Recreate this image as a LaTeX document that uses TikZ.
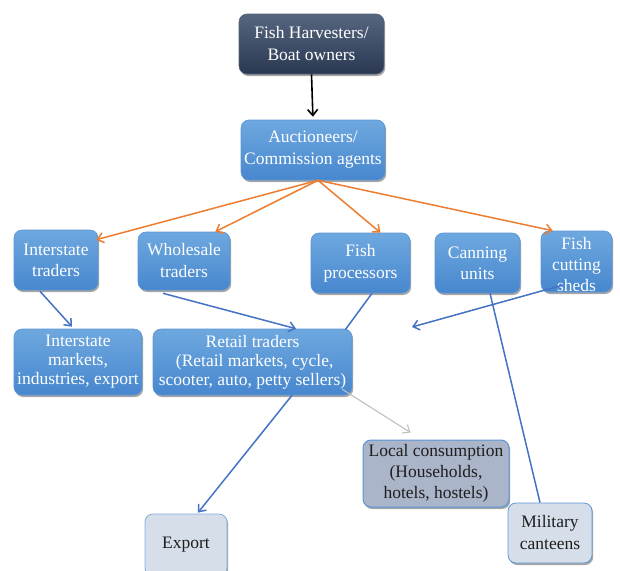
\documentclass[tikz,border=0pt]{standalone}
\usepackage{fontspec}
\setmainfont{Liberation Serif}
\usetikzlibrary{arrows.meta,shadows}
\definecolor{bluetop}{HTML}{6EA8DF}
\definecolor{bluebot}{HTML}{4787CE}
\definecolor{blueedge}{HTML}{5A95D6}
\definecolor{darktop}{HTML}{56667F}
\definecolor{darkbot}{HTML}{2A3852}
\definecolor{greyfill}{HTML}{AAB5CA}
\definecolor{lightfill}{HTML}{D6DEE9}
\definecolor{orangeln}{HTML}{ED7D31}
\definecolor{blueln}{HTML}{4472C4}
\definecolor{greyln}{HTML}{BFBFBF}
\definecolor{txtdark}{HTML}{1E1E1E}
\tikzset{
  box/.style={rounded corners=8pt, align=center, inner sep=1pt,
    font=\fontsize{17.5}{22}\selectfont,
    drop shadow={shadow xshift=1.2pt,shadow yshift=-2pt,opacity=0.35,fill=black}},
  bluebox/.style={box, top color=bluetop, bottom color=bluebot, draw=blueedge, line width=0.6pt, text=white},
  darkbox/.style={box, top color=darktop, bottom color=darkbot, draw=darkbot!80!white, line width=0.6pt, text=white},
  greybox/.style={box, fill=greyfill, draw=blueedge, line width=1pt, text=txtdark},
  lightbox/.style={box, fill=lightfill, draw=blueedge!70!lightfill, line width=0.8pt, text=txtdark},
  tip/.style={-{Straight Barb[length=6pt,width=10pt]}},
  orarr/.style={tip, draw=orangeln, line width=1.5pt},
  blarr/.style={tip, draw=blueln, line width=1.5pt},
  blline/.style={draw=blueln, line width=1.5pt},
  grarr/.style={tip, draw=greyln, line width=1.1pt},
  bkarr/.style={tip, draw=black, line width=1.6pt}
}
\begin{document}
\begin{tikzpicture}[x=1pt,y=-1pt]
\useasboundingbox (0,0) rectangle (620,570);
\node[darkbox, minimum width=145pt, minimum height=60pt] (harv) at (311.5,44) {Fish Harvesters/\\Boat owners};
\node[bluebox, minimum width=144pt, minimum height=60pt] (auct) at (313,150) {Auctioneers/\\Commission agents};
\node[bluebox, minimum width=84pt, minimum height=60pt, font=\fontsize{17.5}{21}\selectfont] (inter) at (56,260) {Interstate\\traders};
\node[bluebox, minimum width=92pt, minimum height=58pt] (whole) at (184,261) {Wholesale\\traders};
\node[bluebox, minimum width=99pt, minimum height=60pt] (proc) at (360.5,263) {Fish\\processors};
\node[bluebox, minimum width=85pt, minimum height=60pt, font=\fontsize{17.5}{21}\selectfont] (can) at (477.5,263) {Canning\\units};
\node[bluebox, minimum width=71pt, minimum height=61pt,
  label={[name=shedtxt, align=center, text=white, font=\fontsize{17.5}{21}\selectfont, yshift=-3pt]center:Fish\\cutting\\sheds}] (shed) at (576.5,261.5) {};
\node[bluebox, minimum width=128pt, minimum height=66pt, font=\fontsize{17.5}{19}\selectfont] (imkt) at (78,362) {Interstate\\markets,\\industries, export};
\node[bluebox, minimum width=199pt, minimum height=66pt, font=\fontsize{17.5}{19}\selectfont] (retail) at (252.5,362) {Retail traders\\\ (Retail markets, cycle,\\scooter, auto, petty sellers)};
\node[greybox, minimum width=146pt, minimum height=67pt, font=\fontsize{17.5}{21}\selectfont] (local) at (436,473.5) {Local consumption\\(Households,\\hotels, hostels)};
\node[lightbox, minimum width=82pt, minimum height=62pt] (export) at (186,545) {Export};
\node[lightbox, minimum width=84pt, minimum height=60pt, draw=blueedge] (mil) at (550,533) {Military\\canteens};
\coordinate (shedend) at (412,327);

\draw[bkarr, shorten >=3pt] (harv.south) -- (auct.north);
\draw[orarr] ([xshift=5pt]auct.south) -- ([xshift=-2pt,yshift=-10pt]inter.north east);
\draw[orarr] ([xshift=5pt]auct.south) -- ([xshift=-15pt]whole.north east);
\draw[orarr] ([xshift=5pt]auct.south) -- ([xshift=20pt]proc.north);
\draw[orarr] ([xshift=5pt]auct.south) -- ([xshift=12pt]shed.north west);

\draw[blarr] ([xshift=-16pt,yshift=-1pt]inter.south) -- ([xshift=-6pt,yshift=2pt]imkt.north);
\draw[blarr] ([xshift=-21pt,yshift=-3pt]whole.south) -- ([xshift=43.5pt]retail.north);
\draw[blline] ([xshift=11.5pt]proc.south) -- ([xshift=-7pt,yshift=-1pt]retail.north east);
\draw[blarr] ([xshift=-14.5pt,yshift=7pt]shed.south) -- (shedend);
\draw[blline] ([xshift=12.5pt]can.south) -- ([xshift=-10pt]mil.north);
\draw[blarr] ([xshift=39.5pt]retail.south) -- ([xshift=12pt,yshift=1pt]export.north);
\draw[grarr] ([xshift=-10pt,yshift=6pt]retail.south east) -- ([xshift=48pt,yshift=7pt]local.north west);
\end{tikzpicture}
\end{document}
